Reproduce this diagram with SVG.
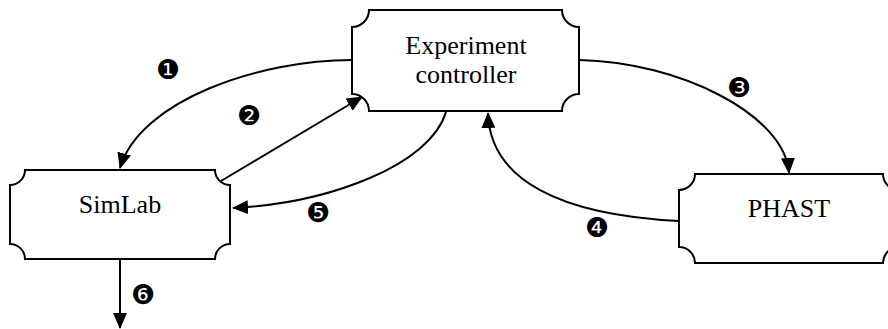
<svg xmlns="http://www.w3.org/2000/svg" width="888" height="329" viewBox="0 0 888 329">
<defs>
<style>
.box{fill:#fff;stroke:#000;stroke-width:2}
.lbl{font-family:"Liberation Serif","Times New Roman",serif;font-size:26px;fill:#000;text-anchor:middle}
.num{font-family:"DejaVu Sans",sans-serif;font-size:27px;fill:#000;text-anchor:middle}
.con{fill:none;stroke:#000;stroke-width:2}
</style>
<marker id="ah" markerUnits="userSpaceOnUse" viewBox="0 0 16 14" refX="15" refY="7" markerWidth="16" markerHeight="14" orient="auto">
<path d="M0,0 L16,7 L0,14 Z" fill="#000"/>
</marker>
</defs>
<rect width="888" height="329" fill="#fff"/>
<g id="connectors">
<path class="con" d="M352,60 C260,60 140,100 120,168" marker-end="url(#ah)"/>
<path class="con" d="M221,181 L362,97" marker-end="url(#ah)"/>
<path class="con" d="M579,60 C680,62 785,115 789,173" marker-end="url(#ah)"/>
<path class="con" d="M679,221 C560,215 490,180 488,113" marker-end="url(#ah)"/>
<path class="con" d="M446,112 C430,165 330,203 233,208" marker-end="url(#ah)"/>
<path class="con" d="M120,259 L120,328" marker-end="url(#ah)"/>
<text class="num" x="168" y="79">❶</text>
<text class="num" x="249" y="125">❷</text>
<text class="num" x="739" y="97">❸</text>
<text class="num" x="597" y="237">❹</text>
<text class="num" x="318" y="222">❺</text>
<text class="num" x="143" y="304">❻</text>
</g>
<g id="controller">
<path class="box" d="M369,10 H562 A17,17 0 0 0 579,27 V94 A17,17 0 0 0 562,111 H369 A17,17 0 0 0 352,94 V27 A17,17 0 0 0 369,10 Z"/>
<text class="lbl" x="466" y="54">Experiment</text>
<text class="lbl" x="466" y="83">controller</text>
</g>
<g id="simlab">
<path class="box" d="M25,170 H215 A15,15 0 0 0 230,185 V244 A15,15 0 0 0 215,259 H25 A15,15 0 0 0 10,244 V185 A15,15 0 0 0 25,170 Z"/>
<text class="lbl" x="120" y="213">SimLab</text>
</g>
<g id="phast">
<path class="box" d="M695,174 H883 A16,16 0 0 0 899,190 V247 A16,16 0 0 0 883,263 H695 A16,16 0 0 0 679,247 V190 A16,16 0 0 0 695,174 Z"/>
<text class="lbl" x="789" y="217">PHAST</text>
</g>
</svg>
